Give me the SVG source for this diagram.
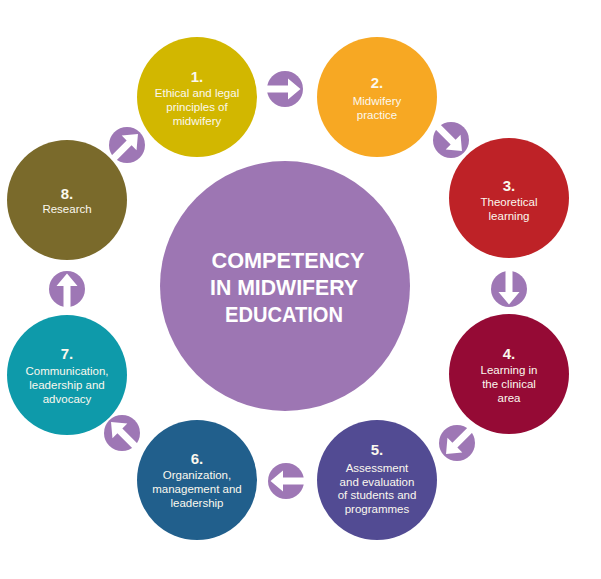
<svg xmlns="http://www.w3.org/2000/svg" xmlns:xlink="http://www.w3.org/1999/xlink" width="601" height="579" viewBox="0 0 601 579">
<style>
.num{font-family:"Liberation Sans",Arial,sans-serif;font-weight:bold;font-size:15px;fill:#FBF8EE;text-anchor:middle}
.lbl{font-family:"Liberation Sans",Arial,sans-serif;font-size:11.5px;fill:#FBF8EE;text-anchor:middle}
.ctr{font-family:"Liberation Sans",Arial,sans-serif;font-weight:bold;font-size:22px;fill:#FFFFFF;text-anchor:middle}
</style>
<defs>
<g id="arr">
<circle r="18" fill="#9E77B5"/>
<polygon points="-20,-3.5 3,-3.5 3,-10.5 15.5,0 3,10.5 3,3.5 -20,3.5" fill="#FFFFFF"/>
</g>
</defs>
<rect width="601" height="579" fill="#FFFFFF"/>
<g id="connectors">
<use xlink:href="#arr" href="#arr" transform="translate(285,89) rotate(0)"/>
<use xlink:href="#arr" href="#arr" transform="translate(451,140) rotate(45)"/>
<use xlink:href="#arr" href="#arr" transform="translate(509,289) rotate(90)"/>
<use xlink:href="#arr" href="#arr" transform="translate(457,443) rotate(135)"/>
<use xlink:href="#arr" href="#arr" transform="translate(286,481) rotate(180)"/>
<use xlink:href="#arr" href="#arr" transform="translate(122,433) rotate(225)"/>
<use xlink:href="#arr" href="#arr" transform="translate(67,289) rotate(270)"/>
<use xlink:href="#arr" href="#arr" transform="translate(127,145) rotate(315)"/>
</g>
<g id="center">
<circle cx="285" cy="286" r="125" fill="#9D76B3"/>
<text class="ctr" x="288" y="268" textLength="153" lengthAdjust="spacingAndGlyphs">COMPETENCY</text>
<text class="ctr" x="284" y="295" textLength="148" lengthAdjust="spacingAndGlyphs">IN MIDWIFERY</text>
<text class="ctr" x="284" y="322" textLength="118" lengthAdjust="spacingAndGlyphs">EDUCATION</text>
</g>
<g id="node1">
<circle cx="197" cy="97" r="60" fill="#D2B700"/>
<text class="num" x="197" y="82">1.</text>
<text class="lbl" x="197" y="97">Ethical and legal</text>
<text class="lbl" x="197" y="111">principles of</text>
<text class="lbl" x="197" y="125">midwifery</text>
</g>
<g id="node2">
<circle cx="377" cy="97" r="60" fill="#F7A823"/>
<text class="num" x="377" y="88">2.</text>
<text class="lbl" x="377" y="105">Midwifery</text>
<text class="lbl" x="377" y="119">practice</text>
</g>
<g id="node3">
<circle cx="509" cy="198" r="60" fill="#BE2227"/>
<text class="num" x="509" y="191">3.</text>
<text class="lbl" x="509" y="206">Theoretical</text>
<text class="lbl" x="509" y="220">learning</text>
</g>
<g id="node4">
<circle cx="509" cy="374" r="60" fill="#950A35"/>
<text class="num" x="509" y="359">4.</text>
<text class="lbl" x="509" y="374">Learning in</text>
<text class="lbl" x="509" y="388">the clinical</text>
<text class="lbl" x="509" y="402">area</text>
</g>
<g id="node5">
<circle cx="377" cy="480" r="60" fill="#524B93"/>
<text class="num" x="377" y="455">5.</text>
<text class="lbl" x="377" y="472">Assessment</text>
<text class="lbl" x="377" y="486">and evaluation</text>
<text class="lbl" x="377" y="499">of students and</text>
<text class="lbl" x="377" y="513">programmes</text>
</g>
<g id="node6">
<circle cx="197" cy="480" r="60" fill="#215F8C"/>
<text class="num" x="197" y="464">6.</text>
<text class="lbl" x="197" y="479">Organization,</text>
<text class="lbl" x="197" y="493">management and</text>
<text class="lbl" x="197" y="507">leadership</text>
</g>
<g id="node7">
<circle cx="67" cy="375" r="60" fill="#0E9AAA"/>
<text class="num" x="67" y="359">7.</text>
<text class="lbl" x="67" y="375">Communication,</text>
<text class="lbl" x="67" y="389">leadership and</text>
<text class="lbl" x="67" y="403">advocacy</text>
</g>
<g id="node8">
<circle cx="67" cy="200" r="60" fill="#7A6A2B"/>
<text class="num" x="67" y="199">8.</text>
<text class="lbl" x="67" y="213">Research</text>
</g>
</svg>
